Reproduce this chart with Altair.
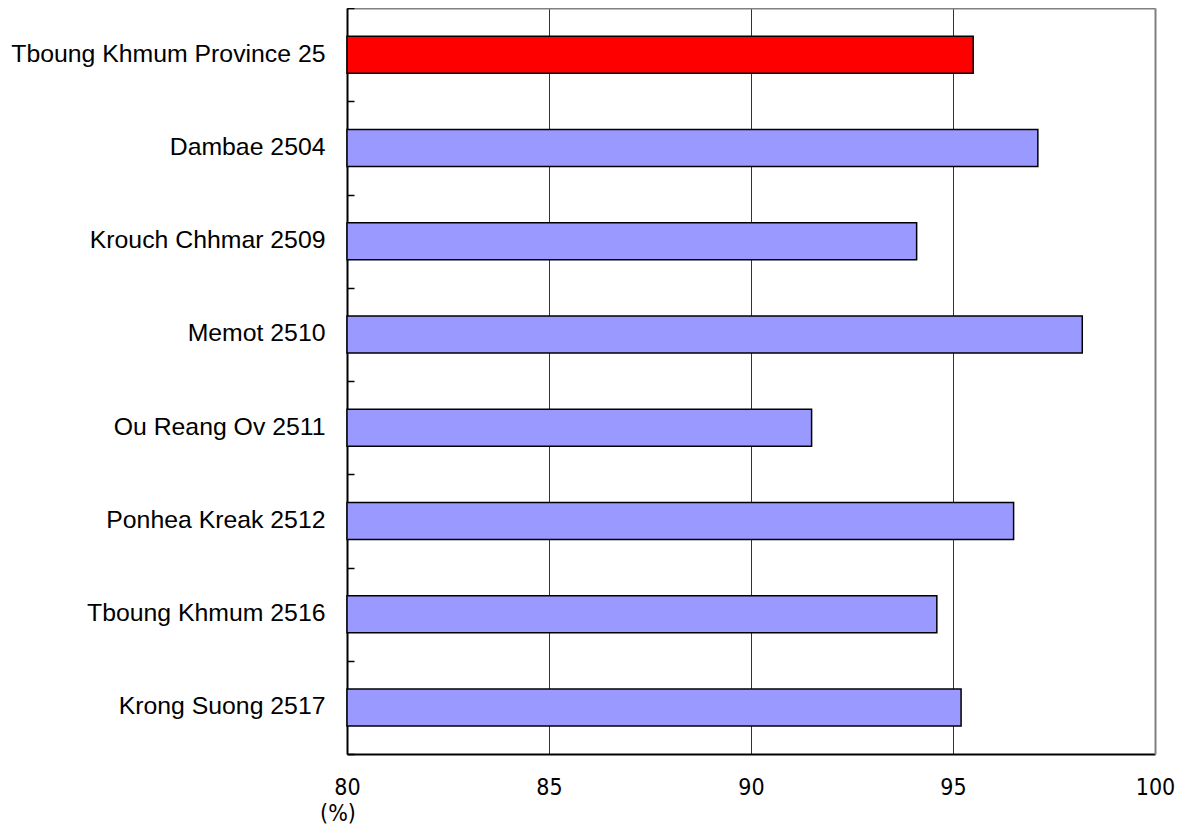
import altair as alt
import pandas as pd

categories = [
    "Tboung Khmum Province 25",
    "Dambae 2504",
    "Krouch Chhmar 2509",
    "Memot 2510",
    "Ou Reang Ov 2511",
    "Ponhea Kreak 2512",
    "Tboung Khmum 2516",
    "Krong Suong 2517",
]
values = [95.5, 97.1, 94.1, 98.2, 91.5, 96.5, 94.6, 95.2]
bar_colors = ["#FF0000", "#9999FF", "#9999FF", "#9999FF", "#9999FF", "#9999FF", "#9999FF", "#9999FF"]
x_ticks = [80, 85, 90, 95, 100]

df = pd.DataFrame({"name": categories, "value": values, "color": bar_colors})

yscale = alt.Scale(paddingInner=0, paddingOuter=0)
xscale = alt.Scale(domain=[80, 100], zero=False, nice=False)
narrow = "Liberation Sans Narrow, DejaVu Sans Condensed, sans-serif"
sans = "Liberation Sans, Arial, sans-serif"

base = alt.Chart(df)

bars = base.mark_bar(stroke="black", strokeWidth=1.5, size=37).encode(
    y=alt.Y(
        "name:N",
        sort=None,
        scale=yscale,
        axis=alt.Axis(
            title=None, orient="left", ticks=False, domain=True,
            domainColor="black", domainWidth=2, grid=False,
            labelFont=sans, labelFontSize=24.8, labelColor="black",
            labelPadding=22, labelLimit=600,
        ),
    ),
    x=alt.X(
        "value:Q",
        scale=xscale,
        axis=alt.Axis(
            orient="bottom", values=x_ticks, ticks=False, grid=True,
            gridColor={"condition": {"test": "datum.value >= 100", "value": "transparent"}, "value": "#333333"},
            gridWidth=1, domainColor="black", domainWidth=2,
            labelFont=narrow, labelFontSize=23, labelColor="black",
            labelPadding=40, labelBaseline="alphabetic", labelFlush=False,
            title="(%)", titleX=-9.5, titleY=66, titleAlign="center",
            titleBaseline="alphabetic", titleFont=narrow, titleFontSize=23,
            titleFontWeight="normal", titleColor="black",
        ),
    ),
    x2=alt.datum(80),
    color=alt.Color("color:N", scale=None),
)

borders = base.mark_bar(opacity=0).encode(
    y=alt.Y(
        "name:N", sort=None, scale=yscale,
        axis=alt.Axis(title=None, orient="right", labels=False, ticks=False, grid=False,
                      domainColor="#808080", domainWidth=2),
    ),
    x=alt.X(
        "value:Q", scale=xscale,
        axis=alt.Axis(title=None, orient="top", labels=False, ticks=False, grid=False,
                      domainColor="#808080", domainWidth=2),
    ),
    x2=alt.datum(80),
)

inticks = base.mark_bar(opacity=0).encode(
    y=alt.Y(
        "name:N", sort=None, scale=yscale,
        axis=alt.Axis(title=None, orient="left", labels=False, domain=False, grid=False,
                      ticks=True, tickSize=7, offset=-7, tickBand="extent",
                      tickColor="black", tickWidth=1.5),
    ),
    x=alt.X("value:Q", scale=xscale, axis=None),
    x2=alt.datum(80),
)

chart = (
    alt.layer(bars, borders, inticks)
    .resolve_axis(x="independent", y="independent")
    .properties(
        width=808,
        height=746,
        autosize=alt.AutoSizeParams(type="none"),
        padding={"left": 339, "top": 0, "right": 22, "bottom": 72},
    )
    .configure_view(strokeWidth=0)
)

chart.save("out.html", embed_options={"renderer": "svg", "actions": False})
